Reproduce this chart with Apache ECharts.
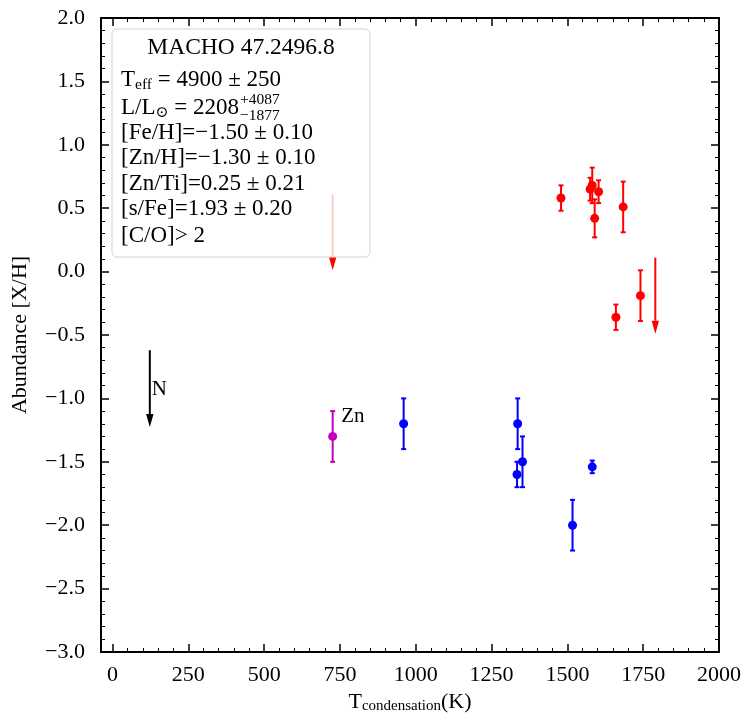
<!DOCTYPE html>
<html>
<head>
<meta charset="utf-8">
<script src="https://cdn.jsdelivr.net/npm/echarts@6/dist/echarts.min.js"></script>
<style>
  html, body { margin: 0; padding: 0; background: #fff; }
  #chart { width: 751px; height: 725px; }
</style>
</head>
<body>
<div id="chart"></div>
<script>
var FONT = '"Liberation Serif", "DejaVu Serif", serif';

// red: detected elements
var redT = [1479, 1582, 1575, 1603, 1590, 1684, 1660, 1741];
var redAb = [0.58, 0.68, 0.65, 0.63, 0.42, 0.51, -0.36, -0.19];
var redErr = [0.10, 0.14, 0.09, 0.09, 0.15, 0.20, 0.10, 0.20];

// blue
var blueT = [960, 1336, 1352, 1334, 1582, 1517];
var blueAb = [-1.20, -1.20, -1.50, -1.60, -1.54, -2.00];
var blueErr = [0.20, 0.20, 0.20, 0.10, 0.05, 0.20];

// Zn
var znT = [726];
var znAb = [-1.30];
var znErr = [0.20];

// upper limits (arrow start, arrow tip)
var limT = [726, 1790];
var limTop = [0.61, 0.11];
var limTip = [0.01, -0.49];
var nT = [123];
var nTop = [-0.62];
var nTip = [-1.225];

// element labels
var labelT = [129, 754];
var labelAb = [-0.93, -1.14];
var labelText = ['N', 'Zn'];

var xTicks = [0, 250, 500, 750, 1000, 1250, 1500, 1750, 2000];
var xMinor = [];
for (var t = 0; t <= 2000; t += 50) {
  if (t % 250 !== 0) xMinor.push(t);
}

function zip3(a, b, c) {
  return a.map(function (v, i) { return [v, b[i], c[i]]; });
}

function errorBars(color) {
  return function (params, api) {
    var x = api.value(0), y = api.value(1), e = api.value(2);
    var top = api.coord([x, y + e]);
    var bot = api.coord([x, y - e]);
    var st = { stroke: color, lineWidth: 2 };
    var cw = 2.5;
    return {
      type: 'group',
      children: [
        { type: 'line', shape: { x1: top[0], y1: top[1], x2: bot[0], y2: bot[1] }, style: st },
        { type: 'line', shape: { x1: top[0] - cw, y1: top[1], x2: top[0] + cw, y2: top[1] }, style: st },
        { type: 'line', shape: { x1: bot[0] - cw, y1: bot[1], x2: bot[0] + cw, y2: bot[1] }, style: st }
      ]
    };
  };
}

function arrows(color) {
  return function (params, api) {
    var x = api.value(0);
    var p0 = api.coord([x, api.value(1)]);
    var p1 = api.coord([x, api.value(2)]);
    var hl = 13, hw = 3.7;
    return {
      type: 'group',
      children: [
        { type: 'line', shape: { x1: p0[0], y1: p0[1], x2: p1[0], y2: p1[1] - hl }, style: { stroke: color, lineWidth: 2 } },
        { type: 'polygon', shape: { points: [[p1[0] - hw, p1[1] - hl], [p1[0] + hw, p1[1] - hl], [p1[0], p1[1]]] }, style: { fill: color } }
      ]
    };
  };
}

function fmtY(v) {
  return (v < 0 ? '\u2212' : '') + Math.abs(v).toFixed(1);
}

// text measuring for the info box
var ctx = document.createElement('canvas').getContext('2d');
function textW(s, size) {
  ctx.font = size + 'px ' + FONT;
  return ctx.measureText(s).width;
}
function txt(s, x, y, size, align) {
  return {
    type: 'text', x: x, y: y, z: 101,
    style: { text: s, font: size + 'px ' + FONT, fill: '#000',
      textAlign: align || 'left', textVerticalAlign: 'middle' }
  };
}
// one line made of runs: [text, size, dy]
function runLine(x, y, runs) {
  var out = [];
  runs.forEach(function (r) {
    out.push(txt(r[0], x, y + r[2], r[1]));
    x += textW(r[0], r[1]);
  });
  return out;
}

var boxX = 121;
var big = 23, small = 15.5;
var boxItems = [
  { type: 'rect', x: 112, y: 29, z: 100, shape: { width: 258, height: 228, r: 5 },
    style: { fill: 'rgba(255,255,255,0.8)', stroke: '#d3d3d3', lineWidth: 1 } },
  txt('MACHO 47.2496.8', 241, 48, 23.5, 'center')
];
boxItems = boxItems.concat(runLine(boxX, 80, [['T', big, 0], ['eff', small, 5], [' = 4900 \u00b1 250', big, 0]]));
var lRow = runLine(boxX, 108, [['L/L', big, 0], ['\u2299', small, 5], [' = 2208', big, 0]]);
var lEnd = boxX + textW('L/L', big) + textW('\u2299', small) + textW(' = 2208', big);
boxItems = boxItems.concat(lRow);
boxItems.push(txt('+4087', lEnd + 1, 100, small));
boxItems.push(txt('\u22121877', lEnd + 1, 116, small));
boxItems.push(txt('[Fe/H]=\u22121.50 \u00b1 0.10', boxX, 133, big));
boxItems.push(txt('[Zn/H]=\u22121.30 \u00b1 0.10', boxX, 158, big));
boxItems.push(txt('[Zn/Ti]=0.25 \u00b1 0.21', boxX, 184, big));
boxItems.push(txt('[s/Fe]=1.93 \u00b1 0.20', boxX, 209, big));
boxItems.push(txt('[C/O]> 2', boxX, 236, big));

var chart = echarts.init(document.getElementById('chart'));

var xBase = { type: 'value', min: -38, max: 2000, splitLine: { show: false } };
var yBase = { type: 'value', min: -3, max: 2, interval: 0.5, splitLine: { show: false } };
var spine = { show: true, onZero: false, lineStyle: { color: '#000', width: 2 } };
var majorTick = { show: true, inside: true, length: 8, lineStyle: { color: '#000', width: 1.5 } };
var minorTickStyle = { show: true, inside: true, length: 4, lineStyle: { color: '#000', width: 1 } };

var option = {
  animation: false,
  backgroundColor: '#fff',
  grid: { left: 101, right: 32, top: 18, bottom: 73, containLabel: false },
  xAxis: [
    Object.assign({}, xBase, {
      position: 'bottom', axisLine: spine,
      axisTick: Object.assign({}, majorTick, { customValues: xTicks }),
      axisLabel: { customValues: xTicks, color: '#000', fontFamily: FONT, fontSize: 22, margin: 12,
        formatter: function (v) { return String(v); } },
      name: 'T{s|condensation}(K)', nameLocation: 'middle', nameGap: 38,
      nameTextStyle: { color: '#000', fontFamily: FONT, fontSize: 22,
        rich: { s: { fontFamily: FONT, fontSize: 15, color: '#000', padding: [8, 0, 0, 0] } } }
    }),
    Object.assign({}, xBase, {
      position: 'bottom', axisLine: { show: false, onZero: false },
      axisTick: Object.assign({}, minorTickStyle, { customValues: xMinor }),
      axisLabel: { show: false }
    }),
    Object.assign({}, xBase, {
      position: 'top', axisLine: spine,
      axisTick: Object.assign({}, majorTick, { customValues: xTicks }),
      axisLabel: { show: false }
    }),
    Object.assign({}, xBase, {
      position: 'top', axisLine: { show: false, onZero: false },
      axisTick: Object.assign({}, minorTickStyle, { customValues: xMinor }),
      axisLabel: { show: false }
    })
  ],
  yAxis: [
    Object.assign({}, yBase, {
      position: 'left', axisLine: spine, axisTick: majorTick,
      minorTick: { show: true, splitNumber: 5, length: 4, lineStyle: { color: '#000', width: 1 } },
      axisLabel: { color: '#000', fontFamily: FONT, fontSize: 22, margin: 16, formatter: fmtY },
      name: 'Abundance [X/H]', nameLocation: 'middle', nameGap: 70,
      nameTextStyle: { color: '#000', fontFamily: FONT, fontSize: 22 }
    }),
    Object.assign({}, yBase, {
      position: 'right', axisLine: spine, axisTick: majorTick,
      minorTick: { show: true, splitNumber: 5, length: 4, lineStyle: { color: '#000', width: 1 } },
      axisLabel: { show: false }
    })
  ],
  graphic: boxItems,
  series: [
    { type: 'custom', renderItem: errorBars('#ff0000'), data: zip3(redT, redAb, redErr), encode: { x: 0, y: 1 }, z: 2 },
    { type: 'custom', renderItem: errorBars('#0000ff'), data: zip3(blueT, blueAb, blueErr), encode: { x: 0, y: 1 }, z: 2 },
    { type: 'custom', renderItem: errorBars('#bf00bf'), data: zip3(znT, znAb, znErr), encode: { x: 0, y: 1 }, z: 2 },
    { type: 'scatter', data: redT.map(function (v, i) { return [v, redAb[i]]; }), symbolSize: 9, itemStyle: { color: '#ff0000', opacity: 1 }, z: 3 },
    { type: 'scatter', data: blueT.map(function (v, i) { return [v, blueAb[i]]; }), symbolSize: 9, itemStyle: { color: '#0000ff', opacity: 1 }, z: 3 },
    { type: 'scatter', data: znT.map(function (v, i) { return [v, znAb[i]]; }), symbolSize: 9, itemStyle: { color: '#bf00bf', opacity: 1 }, z: 3 },
    { type: 'custom', renderItem: arrows('#ff0000'), data: zip3(limT, limTop, limTip), encode: { x: 0, y: 1 }, z: 2 },
    { type: 'custom', renderItem: arrows('#000000'), data: zip3(nT, nTop, nTip), encode: { x: 0, y: 1 }, z: 2 },
    {
      type: 'custom',
      renderItem: function (params, api) {
        var p = api.coord([api.value(0), api.value(1)]);
        return { type: 'text', x: p[0], y: p[1],
          style: { text: labelText[params.dataIndex], font: '21px ' + FONT, fill: '#000',
            textAlign: 'left', textVerticalAlign: 'middle' } };
      },
      data: labelT.map(function (v, i) { return [v, labelAb[i]]; }),
      encode: { x: 0, y: 1 }, z: 4
    }
  ]
};

chart.setOption(option);
</script>
</body>
</html>
